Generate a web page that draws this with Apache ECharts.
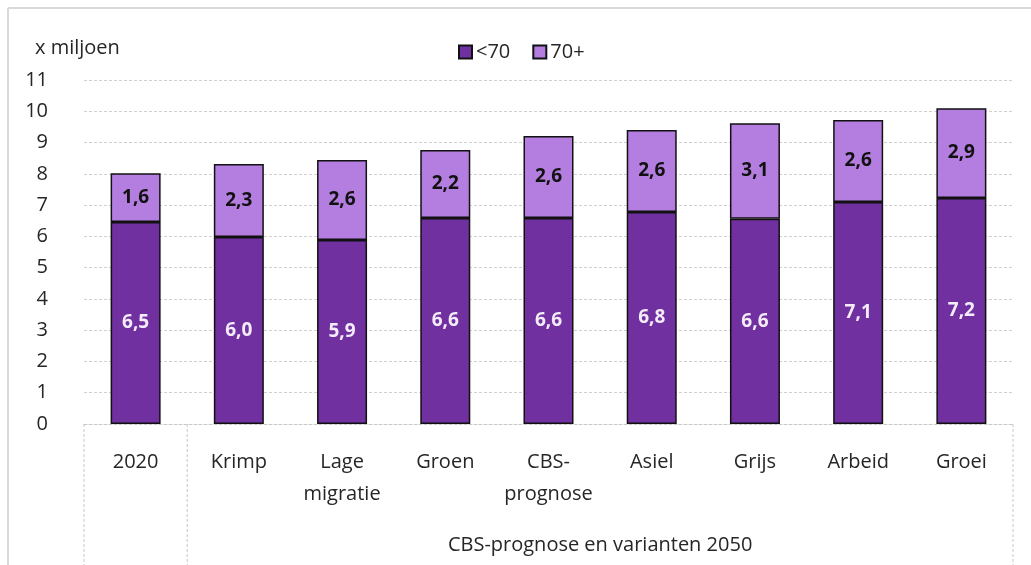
<!DOCTYPE html>
<html>
<head>
<meta charset="utf-8">
<script src="https://cdn.jsdelivr.net/npm/echarts@6/dist/echarts.min.js"></script>
<style>
    html, body { margin: 0; padding: 0; background: #fff; }
    #chart { width: 1031px; height: 565px; }
</style>
</head>
<body>
<div id="chart"></div>
<script>
const categories = ['2020', 'Krimp', 'Lage\nmigratie', 'Groen', 'CBS-\nprognose', 'Asiel', 'Grijs', 'Arbeid', 'Groei'];
const under70 = [6.46, 5.98, 5.88, 6.59, 6.59, 6.78, 6.56, 7.10, 7.23];
const over70 = [1.56, 2.33, 2.56, 2.17, 2.62, 2.62, 3.06, 2.62, 2.87];
const seriesNames = ['<70', '70+'];
const groupLabel = 'CBS-prognose en varianten 2050';
const unitLabel = 'x miljoen';

const FONT = '"Open Sans", "Noto Sans", sans-serif';
const TEXT_SIZE = 20;
const GRID = { left: 84, right: 18, top: 80, bottom: 141 };
const W = 1031;
const H = 565;

const chart = echarts.init(document.getElementById('chart'));

const plotRight = W - GRID.right;
const axisY = H - GRID.bottom;
const catWidth = (plotRight - GRID.left) / categories.length;
const sepStyle = { stroke: '#c8c8c8', lineWidth: 1, lineDash: [3, 2] };

function fmt(v) {
    return v.toFixed(1).replace('.', ',');
}

chart.setOption({
    animation: false,
    textStyle: { fontFamily: FONT },
    title: {
        text: unitLabel,
        left: 30,
        top: 33,
        textStyle: { fontFamily: FONT, fontSize: TEXT_SIZE, fontWeight: 'normal', color: '#262626' }
    },
    legend: {
        left: 453,
        top: 37,
        icon: 'rect',
        itemWidth: 13,
        itemHeight: 13,
        itemGap: 22,
        textStyle: { fontFamily: FONT, fontSize: TEXT_SIZE, color: '#262626', padding: [0, 0, 0, -1] },
        data: seriesNames
    },
    grid: GRID,
    xAxis: {
        type: 'category',
        data: categories,
        axisLine: { lineStyle: { color: '#c8c8c8', type: [3, 2] } },
        axisTick: { show: false },
        axisLabel: {
            fontFamily: FONT,
            fontSize: TEXT_SIZE,
            color: '#262626',
            lineHeight: 32,
            margin: 22,
            interval: 0
        }
    },
    yAxis: {
        type: 'value',
        min: 0,
        max: 11,
        interval: 1,
        axisLine: { show: false },
        axisTick: { show: false },
        axisLabel: { fontFamily: FONT, fontSize: TEXT_SIZE, color: '#262626', margin: 36 },
        splitLine: { lineStyle: { color: '#d0d0d0', type: [3, 2] } }
    },
    series: [
        {
            name: seriesNames[0],
            type: 'bar',
            stack: 'total',
            barWidth: 50,
            data: under70,
            itemStyle: { color: '#7030a0', borderColor: '#111', borderWidth: 1.5 },
            label: {
                show: true,
                position: 'inside',
                formatter: (p) => fmt(p.value),
                fontFamily: FONT,
                fontSize: 19,
                fontWeight: 'bold',
                color: '#f4ecfa'
            }
        },
        {
            name: seriesNames[1],
            type: 'bar',
            stack: 'total',
            barWidth: 50,
            data: over70,
            itemStyle: { color: '#b47de0', borderColor: '#111', borderWidth: 1.5 },
            label: {
                show: true,
                position: 'inside',
                formatter: (p) => fmt(p.value),
                fontFamily: FONT,
                fontSize: 19,
                fontWeight: 'bold',
                color: '#111'
            }
        }
    ],
    graphic: [
        // chart frame (top and left only)
        { type: 'line', shape: { x1: 8, y1: 8, x2: W, y2: 8 }, style: { stroke: '#d9d9d9', lineWidth: 2 } },
        { type: 'line', shape: { x1: 8, y1: 8, x2: 8, y2: H }, style: { stroke: '#d9d9d9', lineWidth: 2 } },
        // category separators below the axis
        { type: 'line', shape: { x1: GRID.left, y1: axisY, x2: GRID.left, y2: H }, style: sepStyle },
        { type: 'line', shape: { x1: GRID.left + catWidth, y1: axisY, x2: GRID.left + catWidth, y2: H }, style: sepStyle },
        { type: 'line', shape: { x1: plotRight, y1: axisY, x2: plotRight, y2: H }, style: sepStyle },
        {
            type: 'text',
            x: (GRID.left + catWidth + plotRight) / 2,
            y: 545,
            style: {
                text: groupLabel,
                font: TEXT_SIZE + 'px ' + FONT,
                fill: '#262626',
                textAlign: 'center',
                textVerticalAlign: 'middle'
            }
        }
    ]
});

window.addEventListener('resize', () => chart.resize());
</script>
</body>
</html>
